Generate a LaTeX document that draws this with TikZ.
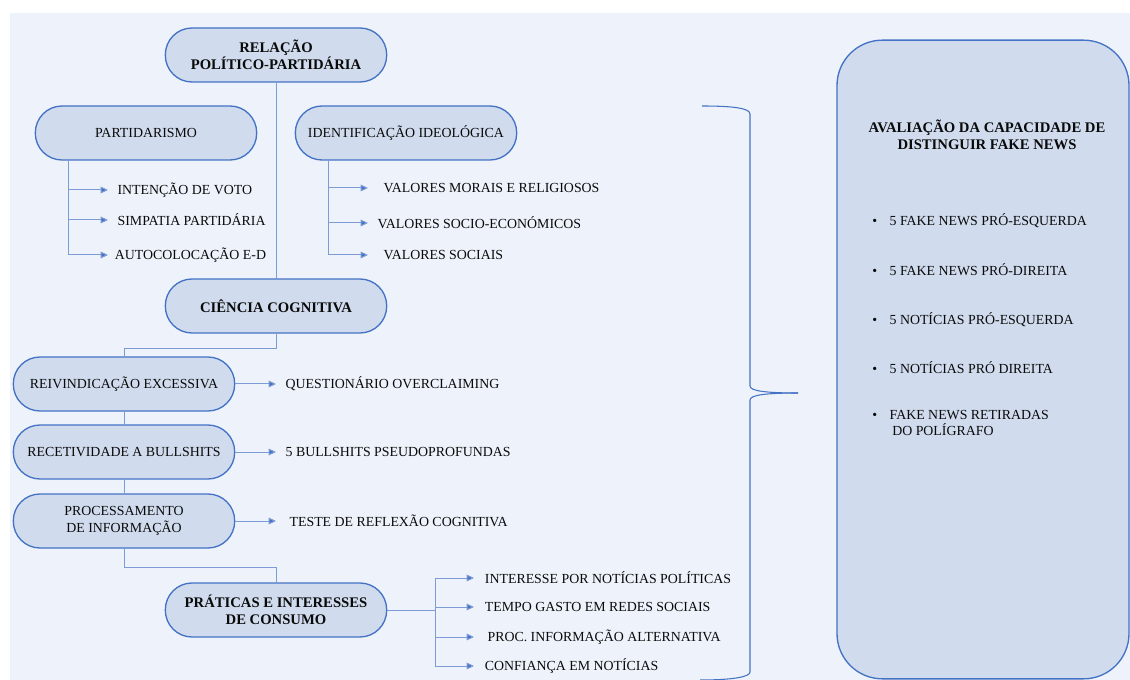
\documentclass[tikz,border=0pt]{standalone}
\usepackage{fontspec}
\setmainfont{Liberation Serif}
\usepackage{tikz}
\usetikzlibrary{arrows.meta,positioning,calc}
\definecolor{fnBack}{HTML}{EEF3FB}
\definecolor{fnFill}{HTML}{D0DCEE}
\definecolor{fnEdge}{HTML}{4472C4}
\definecolor{fnLine}{HTML}{7D9BD6}
\definecolor{fnText}{HTML}{0A0A0A}
\tikzset{
  fnbox/.style={draw=fnEdge,line width=1pt,fill=fnFill,text=fnText,rounded corners=20pt,
                minimum width=166pt,minimum height=40.5pt,align=center,inner sep=2pt,
                font=\fontsize{10.4}{12.5}\selectfont},
  fnhead/.style={fnbox,font=\fontsize{11}{12.5}\selectfont\bfseries},
  fnpanel/.style={draw=fnEdge,line width=1pt,fill=fnFill,rounded corners=34pt,
                  minimum width=219pt,minimum height=479pt,inner sep=0pt},
  fnitem/.style={anchor=west,inner xsep=7pt,inner ysep=1pt,text=fnText,
                 font=\fontsize{10.4}{12.5}\selectfont},
  fnline/.style={draw=fnLine,line width=0.75pt},
  fnarrow/.style={fnline,-{Triangle[length=5.5pt,width=5pt,fill=fnEdge]}},
  fnbrace/.style={draw=fnEdge,line width=0.8pt},
}

\begin{document}
\begin{tikzpicture}[x=0.75pt,y=-0.75pt]
  \useasboundingbox (0,0) rectangle (1130,680);
  \fill[fnBack] (10,13) rectangle (1130,680);

  % left tree
  \node[fnhead] (rel)   at (276,55)  {RELAÇÃO\\POLÍTICO-PARTIDÁRIA};
  \node[fnbox]  (part)  at (146,133) {PARTIDARISMO};
  \node[fnbox]  (ideo)  at (406,133) {IDENTIFICAÇÃO IDEOLÓGICA};
  \node[fnhead] (cog)   at (276,306) {CIÊNCIA COGNITIVA};
  \node[fnbox]  (reiv)  at (124,384) {REIVINDICAÇÃO EXCESSIVA};
  \node[fnbox]  (recet) at (124,452) {RECETIVIDADE A BULLSHITS};
  \node[fnbox]  (proc)  at (124,521) {PROCESSAMENTO\\DE INFORMAÇÃO};
  \node[fnhead] (pract) at (276,610) {PRÁTICAS E INTERESSES\\DE CONSUMO};

  \node[fnitem] (voto)  at (108,190) {INTENÇÃO DE VOTO};
  \node[fnitem] (simp)  at (108,220) {SIMPATIA PARTIDÁRIA};
  \node[fnitem,inner xsep=5pt] (auto) at (108,255) {AUTOCOLOCAÇÃO E-D};
  \node[fnitem] (moral) at (368,188) {\hspace{4.5pt}VALORES MORAIS E RELIGIOSOS};
  \node[fnitem] (socec) at (368,223) {VALORES SOCIO-ECONÓMICOS};
  \node[fnitem] (socia) at (368,255) {\hspace{4.5pt}VALORES SOCIAIS};
  \node[fnitem] (quest) at (276,384) {QUESTIONÁRIO OVERCLAIMING};
  \node[fnitem] (pseud) at (276,452) {5 BULLSHITS PSEUDOPROFUNDAS};
  \node[fnitem] (crt)   at (276,521) {\hspace{3pt}TESTE DE REFLEXÃO COGNITIVA};
  \node[fnitem,inner xsep=8pt] (inter) at (474,578) {INTERESSE POR NOTÍCIAS POLÍTICAS};
  \node[fnitem,inner xsep=8pt] (tempo) at (474,607) {TEMPO GASTO EM REDES SOCIAIS};
  \node[fnitem,inner xsep=8pt] (alter) at (474,637) {\hspace{2pt}PROC. INFORMAÇÃO ALTERNATIVA};
  \node[fnitem,inner xsep=8pt] (conf)  at (474,666) {CONFIANÇA EM NOTÍCIAS};

  \coordinate (pv) at (68,160);
  \coordinate (iv) at (328,160);
  \coordinate (pc) at (435,610);

  \draw[fnline] (rel) -- (cog);
  \foreach \t in {voto,simp,auto}{\draw[fnarrow] (pv) |- (\t.west);}
  \foreach \t in {moral,socec,socia}{\draw[fnarrow] (iv) |- (\t.west);}
  \draw[fnline] (cog.south) -- ++(0,15) -| (reiv.north);
  \draw[fnline] (reiv) -- (recet);
  \draw[fnline] (recet) -- (proc);
  \draw[fnline] (proc.south) -- ++(0,19) -| (pract.north);
  \foreach \a/\b in {reiv/quest,recet/pseud,proc/crt}{\draw[fnarrow] (\a.east) -- (\b.west);}
  \draw[fnline] (pract.east) -- (pc);
  \foreach \t in {inter,tempo,alter,conf}{\draw[fnarrow] (pc) |- (\t.west);}

  % brace
  \draw[fnbrace] (702,106) .. controls (732,106) and (750,108) .. (750,114) -- (750,386)
        .. controls (750,391) and (766,393) .. (798,393);
  \draw[fnbrace] (798,393) .. controls (766,393) and (750,395) .. (750,400) -- (750,672)
        .. controls (750,677) and (732,680) .. (700,680);

  % right panel
  \node[fnpanel] (aval) at (983,359.5) {};
  \node[align=center,text=fnText,font=\fontsize{11}{12.5}\selectfont\bfseries] (titulo) at (987,135)
        {AVALIAÇÃO DA CAPACIDADE DE\\DISTINGUIR FAKE NEWS};
  \foreach \n/\y/\t in {fe/221/5 FAKE NEWS PRÓ-ESQUERDA,fd/270/5 FAKE NEWS PRÓ-DIREITA,
                        ne/320/5 NOTÍCIAS PRÓ-ESQUERDA,nd/368/5 NOTÍCIAS PRÓ DIREITA}{
    \node[fnitem,inner xsep=0pt] (\n) at (872,\y) {\makebox[13pt][l]{•}\t};
  }
  \node[fnitem,inner xsep=0pt,align=left] (pol) at (872,423)
        {\makebox[13pt][l]{•}FAKE NEWS RETIRADAS\\\hspace{15pt}DO POLÍGRAFO};
\end{tikzpicture}
\end{document}
